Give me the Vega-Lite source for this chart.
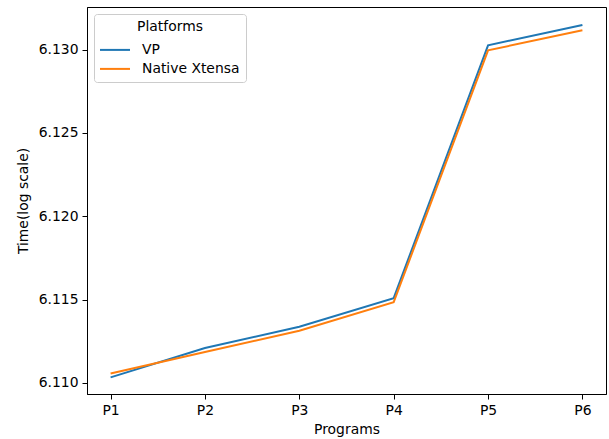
{
  "$schema": "https://vega.github.io/schema/vega-lite/v6.json",
  "width": 519,
  "height": 387,
  "autosize": {"type": "none"},
  "padding": {"left": 87, "top": 7, "right": 3, "bottom": 46},
  "background": "white",
  "config": {
    "font": "DejaVu Sans",
    "view": {"stroke": "black", "strokeWidth": 1},
    "axis": {
      "grid": false,
      "domainColor": "black",
      "tickColor": "black",
      "tickSize": 5,
      "labelFontSize": 13.9,
      "labelColor": "black",
      "titleFontSize": 13.9,
      "titleFontWeight": "normal",
      "titleColor": "black",
      "labelPadding": 4
    }
  },
  "data": {
    "values": [
      {"program": "P1", "platform": "VP", "time": 6.11033},
      {"program": "P2", "platform": "VP", "time": 6.11209},
      {"program": "P3", "platform": "VP", "time": 6.11337},
      {"program": "P4", "platform": "VP", "time": 6.11508},
      {"program": "P5", "platform": "VP", "time": 6.13026},
      {"program": "P6", "platform": "VP", "time": 6.13148},
      {"program": "P1", "platform": "Native Xtensa", "time": 6.11056},
      {"program": "P2", "platform": "Native Xtensa", "time": 6.11185},
      {"program": "P3", "platform": "Native Xtensa", "time": 6.11313},
      {"program": "P4", "platform": "Native Xtensa", "time": 6.11484},
      {"program": "P5", "platform": "Native Xtensa", "time": 6.12996},
      {"program": "P6", "platform": "Native Xtensa", "time": 6.13116}
    ]
  },
  "mark": {"type": "line", "strokeWidth": 2},
  "encoding": {
    "x": {
      "field": "program",
      "type": "ordinal",
      "sort": ["P1", "P2", "P3", "P4", "P5", "P6"],
      "scale": {"type": "point", "padding": 0.25},
      "axis": {"title": "Programs", "labelAngle": 0, "titlePadding": 6}
    },
    "y": {
      "field": "time",
      "type": "quantitative",
      "scale": {"domain": [6.10933, 6.13256], "zero": false, "nice": false},
      "axis": {
        "title": "Time(log scale)",
        "values": [6.110, 6.115, 6.120, 6.125, 6.130],
        "format": ".3f",
        "titlePadding": 8
      }
    },
    "color": {
      "field": "platform",
      "type": "nominal",
      "sort": ["VP", "Native Xtensa"],
      "scale": {"domain": ["VP", "Native Xtensa"], "range": ["#1f77b4", "#ff7f0e"]},
      "legend": {
        "title": "Platforms",
        "orient": "top-left",
        "offset": 7,
        "fillColor": "white",
        "strokeColor": "#cccccc",
        "cornerRadius": 3,
        "padding": 6,
        "titleFontSize": 13.9,
        "titleFontWeight": "normal",
        "titleColor": "black",
        "titleAnchor": "middle",
        "titlePadding": 5,
        "labelFontSize": 13.9,
        "labelColor": "black",
        "symbolType": "M-1.1,0H1.9",
        "symbolStrokeWidth": 2,
        "symbolSize": 400,
        "rowPadding": 1,
        "labelOffset": 20,
        "symbolOffset": 0
      }
    }
  }
}
